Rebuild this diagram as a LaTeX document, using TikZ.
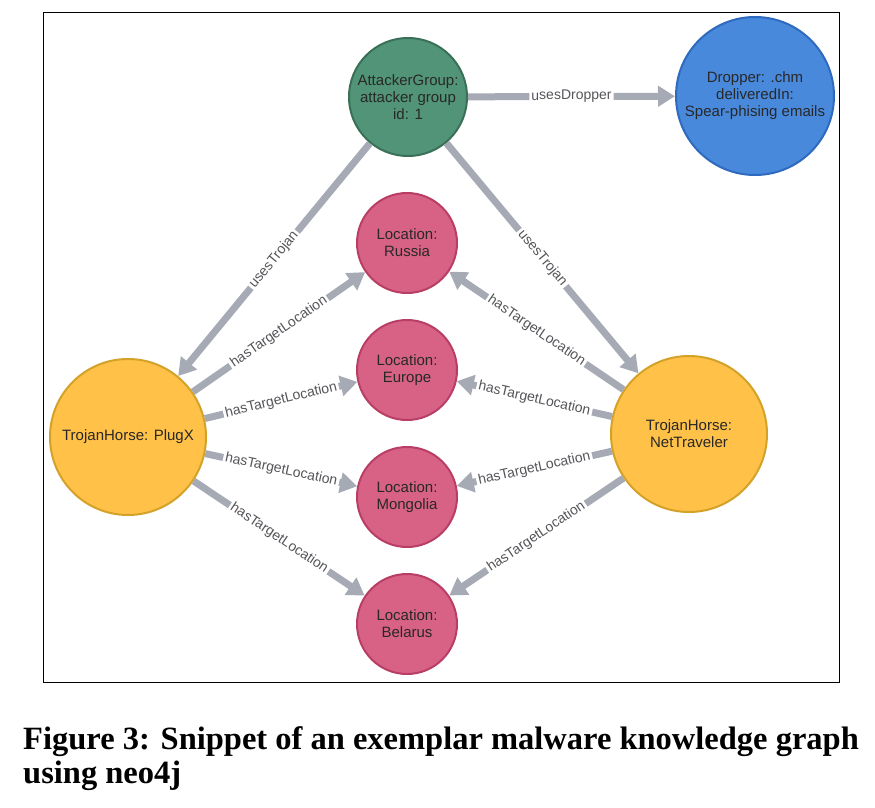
\documentclass[tikz,border=0pt]{standalone}
\usepackage{fontspec}
\setmainfont{Liberation Sans}
\newfontfamily\capfont{Liberation Serif}
\usetikzlibrary{arrows.meta}
\definecolor{edgegray}{RGB}{166,170,180}
\definecolor{labeltext}{RGB}{85,85,90}
\definecolor{nodetext}{RGB}{40,40,40}
\definecolor{greenfill}{RGB}{82,148,120}
\definecolor{greenline}{RGB}{58,112,88}
\definecolor{bluefill}{RGB}{72,137,220}
\definecolor{blueline}{RGB}{46,106,190}
\definecolor{pinkfill}{RGB}{216,98,134}
\definecolor{pinkline}{RGB}{185,62,102}
\definecolor{yellowfill}{RGB}{255,193,72}
\definecolor{yellowline}{RGB}{212,162,40}
\begin{document}
\begin{tikzpicture}[x=1pt,y=-1pt,
  kgnode/.style={circle, draw, line width=2pt, inner sep=0pt, align=center,
    text=nodetext, font=\fontsize{15}{17}\selectfont},
  attacker/.style={kgnode, fill=greenfill, draw=greenline, minimum size=118pt},
  dropper/.style={kgnode, fill=bluefill, draw=blueline, minimum size=158pt},
  location/.style={kgnode, fill=pinkfill, draw=pinkline, minimum size=100pt},
  trojan/.style={kgnode, fill=yellowfill, draw=yellowline, minimum size=156pt},
  rel/.style={draw=edgegray, line width=7pt, -{Triangle[length=17pt,width=20pt]}},
  rellabel/.style={sloped, pos=0.5, fill=white, inner sep=2pt, text=labeltext,
    font=\fontsize{14}{16}\selectfont}
]
\useasboundingbox (0,0) rectangle (875,808);
\draw[line width=1pt] (43,13) rectangle (839,682);

\node[attacker] (AG) at (408,97) {AttackerGroup:\\attacker group\\id: 1};
\node[dropper] (DR) at (755,96) {Dropper: .chm\\deliveredIn:\\Spear-phising emails};
\node[location] (RU) at (407,243) {Location:\\Russia};
\node[location] (EU) at (407,370) {Location:\\Europe};
\node[location] (MO) at (407,497) {Location:\\Mongolia};
\node[location] (BE) at (407,624) {Location:\\Belarus};
\node[trojan] (PX) at (128,437) {TrojanHorse: PlugX};
\node[trojan] (NT) at (689,434) {TrojanHorse:\\NetTraveler};

\draw[rel] (AG) -- node[rellabel] {usesDropper} (DR);
\draw[rel] (AG) -- node[rellabel] {usesTrojan} (PX);
\draw[rel] (AG) -- node[rellabel] {usesTrojan} (NT);
\foreach \loc in {RU,EU,MO,BE}{
  \draw[rel] (PX) -- node[rellabel] {hasTargetLocation} (\loc);
  \draw[rel] (NT) -- node[rellabel] {hasTargetLocation} (\loc);
}

\node[anchor=base west, align=left, inner sep=0pt, text=black,
  font=\capfont\bfseries\fontsize{32.5}{34}\selectfont] (cap) at (23,783)
  {Figure 3: Snippet of an exemplar malware knowledge graph\\using neo4j};
\end{tikzpicture}
\end{document}
